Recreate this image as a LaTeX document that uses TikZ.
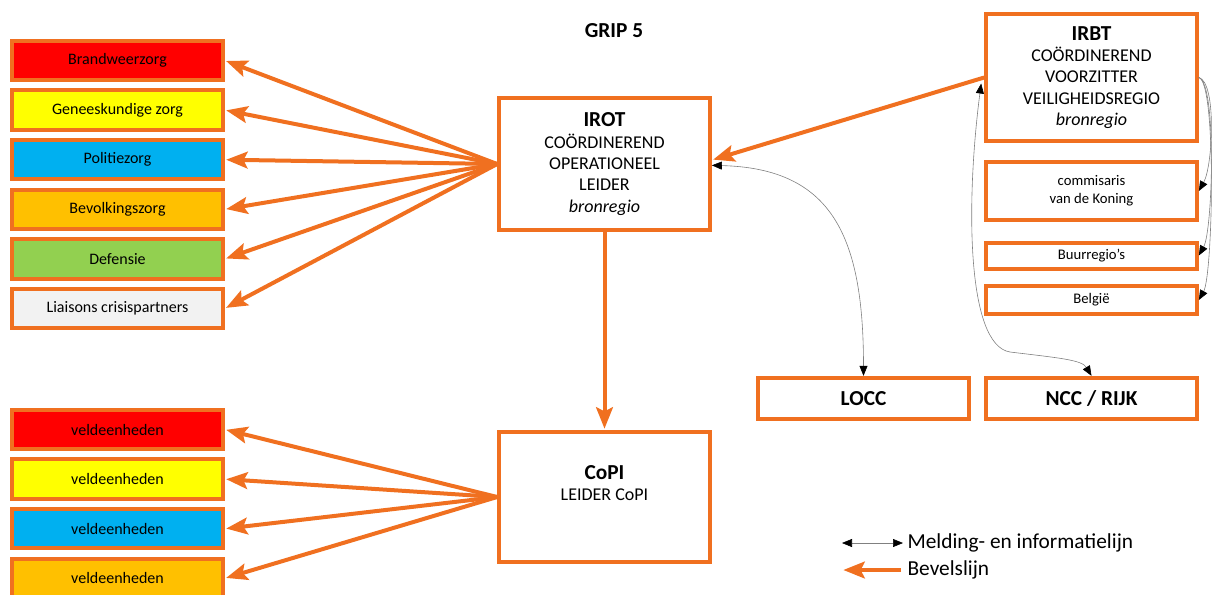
\documentclass[tikz,border=0pt]{standalone}
\usepackage{fontspec}
\setmainfont{Carlito}
\usetikzlibrary{
  arrows.meta,
  positioning
}
\definecolor{rand}{RGB}{240,112,32}
\definecolor{rood}{RGB}{255,0,0}
\definecolor{geel}{RGB}{255,255,0}
\definecolor{blauw}{RGB}{0,176,240}
\definecolor{oranje}{RGB}{255,192,0}
\definecolor{groen}{RGB}{146,208,80}
\definecolor{grijs}{RGB}{242,242,242}
\newcommand{\kop}[1]{{\fontsize{16}{18}\selectfont\bfseries #1}}
\tikzset{
  node distance=37.2pt,
  on grid,
  >={Stealth[length=16pt,width=12.5pt,inset=3pt]},
  % styles
  orange box/.style={
    draw=rand,
    line width=3pt,
    fill=white,
    align=center,
    inner sep=0pt,
    minimum width=158pt,
  },
  zorg/.style={
    orange box,
    minimum height=29.5pt,
    font=\fontsize{12}{14}\selectfont,
  },
  main box/.style={
    orange box,
    font=\fontsize{13.5}{16}\selectfont,
  },
  small box/.style={
    orange box,
    font=\fontsize{11}{13.5}\selectfont,
  },
  bevel/.style={
    draw=rand,
    line width=3pt,
    ->,
    shorten >=1pt,
  },
  info/.style={
    draw=black!50,
    line width=0.45pt,
    -{Triangle[black,length=7.5pt,width=6pt]},
  },
  info both/.style={
    info,
    {Triangle[black,length=7.5pt,width=6pt]}-{Triangle[black,length=7.5pt,width=6pt]},
  },
  legenda/.style={
    anchor=west,
    inner sep=1pt,
    font=\fontsize{16}{18}\selectfont,
  }
}
\begin{document}
\begin{tikzpicture}[x=0.75pt,y=-0.75pt]
  \useasboundingbox (0,0) rectangle (1214,594);

  \node [font=\fontsize{16}{18}\selectfont\bfseries] (grip) at (614,31) {GRIP 5};

  % disciplines
  \node [zorg, fill=rood]   (brand)    at (117.5,60.5)       {Brandweerzorg};
  \node [zorg, fill=geel]   (genees)   [below=of brand]      {Geneeskundige zorg};
  \node [zorg, fill=blauw]  (politie)  [below=of genees]     {Politiezorg};
  \node [zorg, fill=oranje] (bevolk)   [below=of politie]    {Bevolkingszorg};
  \node [zorg, fill=groen]  (defensie) [below=of bevolk]     {Defensie};
  \node [zorg, fill=grijs]  (liaison)  [below=of defensie]   {Liaisons crisispartners};

  % veldeenheden
  \node [zorg, fill=rood]   (veld1)    at (117.5,429.5)      {veldeenheden};
  \node [zorg, fill=geel]   (veld2)    [below=of veld1]      {veldeenheden};
  \node [zorg, fill=blauw]  (veld3)    [below=of veld2]      {veldeenheden};
  \node [zorg, fill=oranje] (veld4)    [below=of veld3]      {veldeenheden};

  % leiding
  \node [main box, minimum height=99pt]   (irot) at (604.5,164)
    {\kop{IROT}\\COÖRDINEREND\\OPERATIONEEL\\LEIDER\\\textit{bronregio}};
  \node [main box, minimum height=97.5pt] (copi) at (604.5,497)
    {\kop{CoPI}\\LEIDER CoPI\\\strut};
  \node [main box, minimum height=95pt]   (irbt) at (1091.5,77.5)
    {\kop{IRBT}\\COÖRDINEREND\\VOORZITTER\\VEILIGHEIDSREGIO\\\textit{bronregio}};

  % bestuur
  \node [small box, minimum height=43.5pt] (comm) at (1091.5,191)   {commisaris\\van de Koning};
  \node [small box, minimum height=19.5pt] (buur) at (1091.5,255.5) {Buurregio’s};
  \node [small box, minimum height=21pt]   (belg) at (1091.5,300)   {België};

  \node [orange box, minimum height=31pt, font=\fontsize{16}{18}\selectfont\bfseries]
    (locc) at (863.5,398.5)  {LOCC};
  \node [orange box, minimum height=31pt, font=\fontsize{16}{18}\selectfont\bfseries]
    (ncc)  at (1091.5,398.5) {NCC / RIJK};

  % bevelslijnen
  \foreach \doel in {brand,genees,politie,bevolk,defensie,liaison}
    \draw [bevel] (irot.west) -- (\doel.east);
  \foreach \doel in {veld1,veld2,veld3,veld4}
    \draw [bevel] (copi.west) -- (\doel.east);
  \draw [bevel] (irot.south) -- (copi.north);
  \draw [bevel] (irbt.west) -- ([yshift=3pt]irot.east);

  % melding- en informatielijnen
  \draw [info both] ([yshift=-1pt]irot.east) .. controls +(120,3) and +(0,-140) .. (locc.north);
  \draw [info both] ([shift={(-3,6)}]irbt.west)
    .. controls (966,200) and (966,345) .. (1010,352)
    .. controls (1060,358) and (1082,360) .. (ncc.north);
  \foreach \doel in {comm,buur,belg}
    \draw [info] (irbt.east) .. controls +(18,5) and +(14,-25) .. (\doel.east);

  % legenda
  \coordinate (leg1a) at (842,543);
  \coordinate (leg1b) at (903,543);
  \draw [info both] (leg1a) -- (leg1b);
  \node [legenda] (leg1) at (906,543) {Melding- en informatielijn};
  \coordinate (leg2a) at (842,570);
  \coordinate (leg2b) at (901,570);
  \draw [bevel] (leg2b) -- (leg2a);
  \node [legenda] (leg2) at (906,570) {Bevelslijn};
\end{tikzpicture}
\end{document}
